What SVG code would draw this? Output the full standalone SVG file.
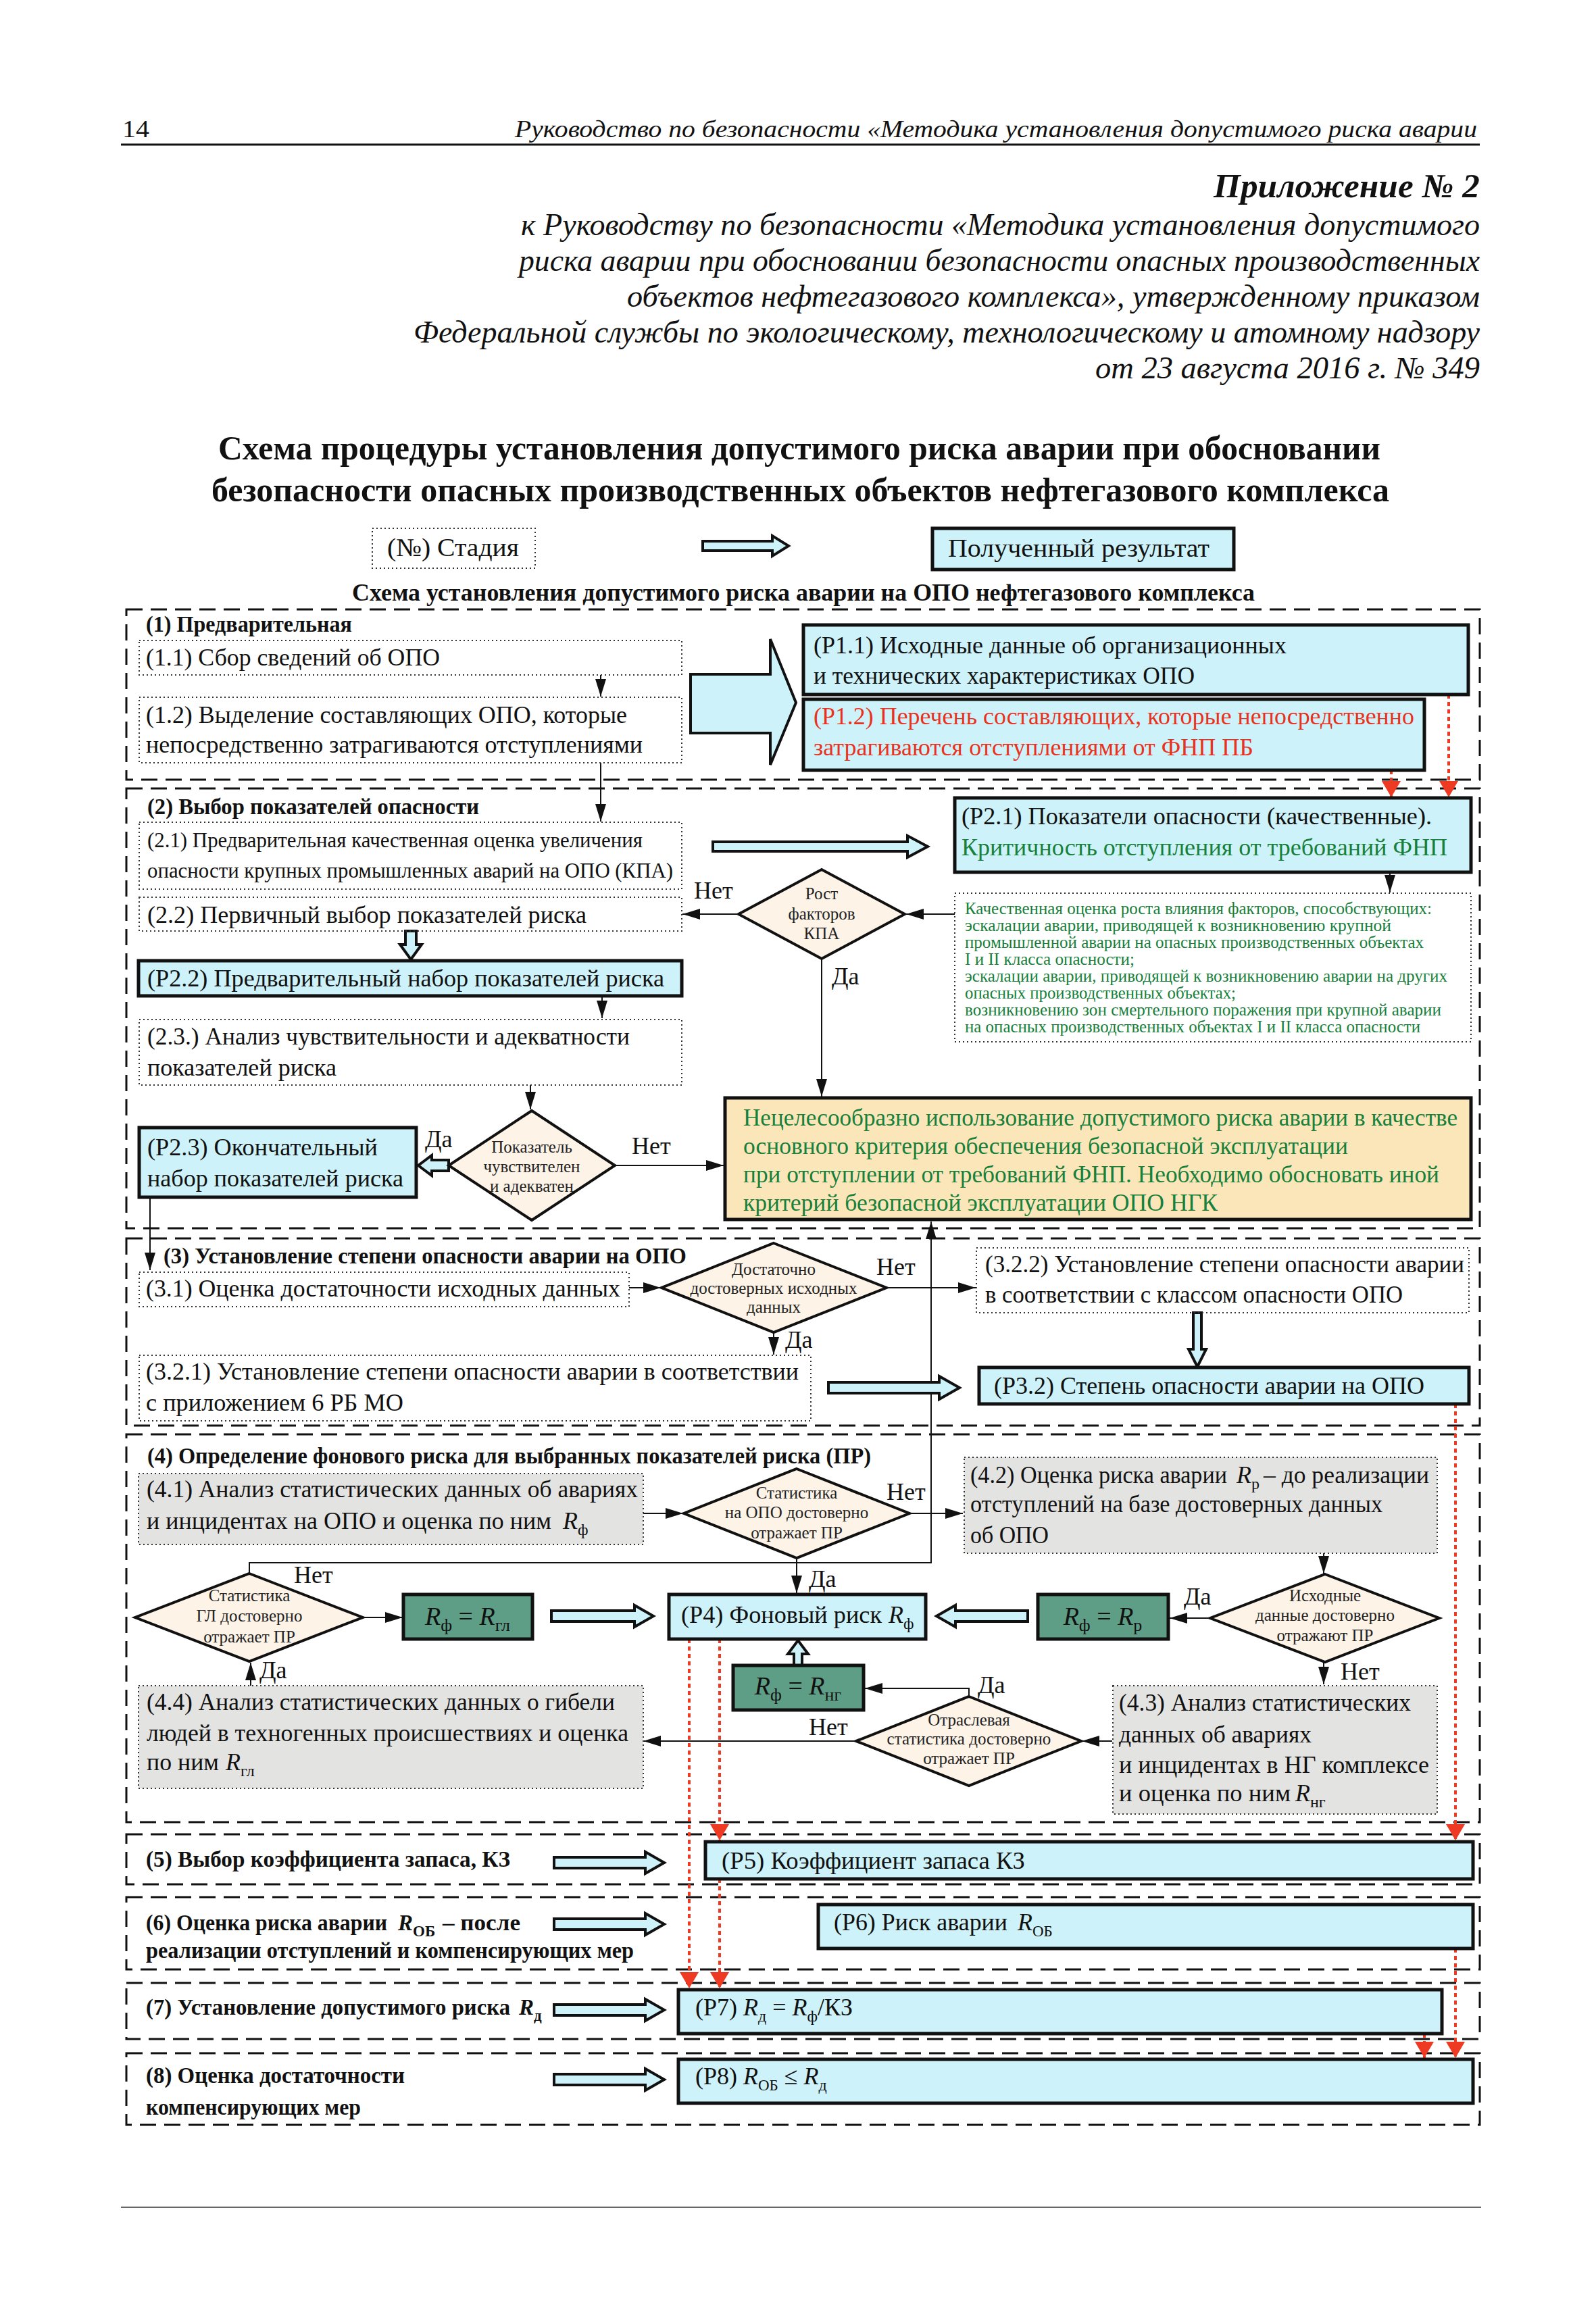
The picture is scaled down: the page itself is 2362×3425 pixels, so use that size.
<svg xmlns="http://www.w3.org/2000/svg" width="2362" height="3425" viewBox="0 0 2362 3425">
<defs>
<style>
text{font-family:"Liberation Serif","Times New Roman",serif;fill:#111}
.t{font-size:36px}
.s{font-size:32px}
.b{font-size:33px;font-weight:bold}
.gs{font-size:25px;fill:#17803a}
.g{fill:#17803a}
.red{fill:#e8321e}
.dt{font-size:25px;text-anchor:middle;fill:#222}
.i{font-style:italic}
.sub{font-size:24px}
.stage{fill:none;stroke:#111;stroke-width:3;stroke-dasharray:24 12}
.dot{fill:none;stroke:#333;stroke-width:2;stroke-dasharray:2 4}
.gray{fill:#e3e3e1;stroke:#333;stroke-width:2;stroke-dasharray:2 4}
.pbox{fill:#cdf2f9;stroke:#111;stroke-width:5}
.obox{fill:#fbe6ba;stroke:#111;stroke-width:5}
.gbox{fill:#5f9e86;stroke:#111;stroke-width:5}
.dia{fill:#fdf3e7;stroke:#111;stroke-width:4}
.ha{fill:#cdf2f9;stroke:#111;stroke-width:4}
.c{fill:none;stroke:#111;stroke-width:2;marker-end:url(#ah)}
.rd{fill:none;stroke:#ee3a22;stroke-width:4;stroke-dasharray:6 5;marker-end:url(#rah)}
</style>
<marker id="ah" markerUnits="userSpaceOnUse" markerWidth="26" markerHeight="16" refX="26" refY="8" orient="auto"><path d="M0,0 L26,8 L0,16 z" fill="#111"/></marker>
<marker id="rah" markerUnits="userSpaceOnUse" markerWidth="24" markerHeight="28" refX="24" refY="14" orient="auto"><path d="M0,0 L24,14 L0,28 z" fill="#ee3a22"/></marker>
</defs>
<rect width="2362" height="3425" fill="#fff"/>

<g id="header">
<text x="181" y="203" font-size="36" textLength="40" lengthAdjust="spacingAndGlyphs">14</text>
<text x="762" y="203" class="i" font-size="35" textLength="1424" lengthAdjust="spacingAndGlyphs">Руководство по безопасности «Методика установления допустимого риска аварии</text>
<line x1="179" y1="214" x2="2190" y2="214" stroke="#111" stroke-width="3"/>
<text x="1796" y="292" font-size="50" font-weight="bold" font-style="italic" textLength="394" lengthAdjust="spacingAndGlyphs">Приложение № 2</text>
<text x="771" y="348" class="i" font-size="46" textLength="1419" lengthAdjust="spacingAndGlyphs">к Руководству по безопасности «Методика установления допустимого</text>
<text x="768" y="401" class="i" font-size="46" textLength="1422" lengthAdjust="spacingAndGlyphs">риска аварии при обосновании безопасности опасных производственных</text>
<text x="928" y="454" class="i" font-size="46" textLength="1262" lengthAdjust="spacingAndGlyphs">объектов нефтегазового комплекса», утвержденному приказом</text>
<text x="612" y="507" class="i" font-size="46" textLength="1578" lengthAdjust="spacingAndGlyphs">Федеральной службы по экологическому, технологическому и атомному надзору</text>
<text x="1621" y="560" class="i" font-size="46" textLength="569" lengthAdjust="spacingAndGlyphs">от 23 августа 2016 г. № 349</text>
<text x="323" y="680" font-size="50" font-weight="bold" textLength="1720" lengthAdjust="spacingAndGlyphs">Схема процедуры установления допустимого риска аварии при обосновании</text>
<text x="313" y="742" font-size="50" font-weight="bold" textLength="1743" lengthAdjust="spacingAndGlyphs">безопасности опасных производственных объектов нефтегазового комплекса</text>
</g>

<g id="legend">
<rect class="dot" x="551" y="782" width="241" height="59"/>
<text x="573" y="823" font-size="38" textLength="195" lengthAdjust="spacingAndGlyphs">(№) Стадия</text>
<polygon class="ha" points="1040,801 1143,801 1143,793 1167,808 1143,823 1143,815 1040,815"/>
<rect class="pbox" x="1380" y="782" width="446" height="61"/>
<text x="1403" y="824" font-size="38" textLength="387" lengthAdjust="spacingAndGlyphs">Полученный результат</text>
<text x="521" y="889" font-size="36" font-weight="bold" textLength="1336" lengthAdjust="spacingAndGlyphs">Схема установления допустимого риска аварии на ОПО нефтегазового комплекса</text>
</g>

<g id="stages">
<rect class="stage" x="187" y="902" width="2003" height="252"/>
<rect class="stage" x="187" y="1167" width="2003" height="651"/>
<rect class="stage" x="187" y="1833" width="2003" height="277"/>
<rect class="stage" x="187" y="2123" width="2003" height="574"/>
<rect class="stage" x="187" y="2715" width="2003" height="74"/>
<rect class="stage" x="187" y="2808" width="2003" height="107"/>
<rect class="stage" x="187" y="2935" width="2003" height="83"/>
<rect class="stage" x="187" y="3039" width="2003" height="106"/>
</g>

<g id="connectors">
<path class="c" d="M889,999 V1031"/>
<path class="c" d="M889,1129 V1216"/>
<path class="c" d="M1093,1353 H1010"/>
<path class="c" d="M1413,1353 H1341"/>
<path class="c" d="M2057,1291 V1321"/>
<path class="c" d="M1216,1419 V1623"/>
<path class="c" d="M891,1474 V1507"/>
<path class="c" d="M785,1606 V1642"/>
<path class="c" d="M910,1725 H1071"/>
<path class="c" d="M222,1772 V1880"/>
<path class="c" d="M931,1906 H978"/>
<path class="c" d="M1312,1906 H1444"/>
<path class="c" d="M1145,1972 V2005"/>
<path class="c" d="M369,2329 V2313 H1378 V1808"/>
<path class="c" d="M952,2240 H1011"/>
<path class="c" d="M1346,2240 H1425"/>
<path class="c" d="M1179,2306 V2358"/>
<path class="c" d="M1959,2299 V2329"/>
<path class="c" d="M1791,2395 H1731"/>
<path class="c" d="M1959,2460 V2493"/>
<path class="c" d="M1646,2577 H1601"/>
<path class="c" d="M1434,2511 V2499 H1280"/>
<path class="c" d="M1267,2577 H952"/>
<path class="c" d="M371,2495 V2461"/>
<path class="c" d="M537,2394 H596"/>
<path class="rd" d="M2144,1028 V1180"/>
<path class="rd" d="M2059,1140 V1180"/>
<path class="rd" d="M2154,2078 V2724"/>
<path class="rd" d="M1065,2426 V2724"/>
<path class="rd" d="M1065,2781 V2943"/>
<path class="rd" d="M1020,2426 V2943"/>
<path class="rd" d="M2154,2884 V3046"/>
<path class="rd" d="M2108,3010 V3046"/>
<polygon class="ha" points="1022,998 1140,998 1140,946 1178,1040 1140,1132 1140,1085 1022,1085"/>
<polygon class="ha" points="1055,1246 1343,1246 1343,1237 1373,1253 1343,1269 1343,1260 1055,1260"/>
<polygon class="ha" points="600,1378 616,1378 616,1398 624,1398 608,1420 592,1398 600,1398"/>
<polygon class="ha" points="664,1717 639,1717 639,1710 619,1725 639,1740 639,1733 664,1733"/>
<polygon class="ha" points="1766,1943 1778,1943 1778,1997 1785,1997 1772,2023 1759,1997 1766,1997"/>
<polygon class="ha" points="1226,2046 1390,2046 1390,2037 1420,2054 1390,2071 1390,2062 1226,2062"/>
<polygon class="ha" points="816,2384 939,2384 939,2376 967,2392 939,2408 939,2400 816,2400"/>
<polygon class="ha" points="1521,2384 1414,2384 1414,2376 1386,2392 1414,2408 1414,2400 1521,2400"/>
<polygon class="ha" points="1175,2465 1187,2465 1187,2448 1196,2448 1181,2428 1166,2448 1175,2448"/>
<polygon class="ha" points="820,2749 955,2749 955,2741 983,2757 955,2773 955,2765 820,2765"/>
<polygon class="ha" points="820,2840 955,2840 955,2832 983,2848 955,2864 955,2856 820,2856"/>
<polygon class="ha" points="820,2967 955,2967 955,2959 983,2975 955,2991 955,2983 820,2983"/>
<polygon class="ha" points="820,3070 955,3070 955,3062 983,3078 955,3094 955,3086 820,3086"/>
</g>

<g id="labels">
<text x="1027" y="1330" class="t">Нет</text>
<text x="1231" y="1457" class="t">Да</text>
<text x="629" y="1698" class="t">Да</text>
<text x="935" y="1708" class="t">Нет</text>
<text x="1297" y="1887" class="t">Нет</text>
<text x="1162" y="1995" class="t">Да</text>
<text x="1312" y="2220" class="t">Нет</text>
<text x="1197" y="2349" class="t">Да</text>
<text x="435" y="2343" class="t">Нет</text>
<text x="384" y="2484" class="t">Да</text>
<text x="1752" y="2375" class="t">Да</text>
<text x="1984" y="2486" class="t">Нет</text>
<text x="1447" y="2506" class="t">Да</text>
<text x="1197" y="2568" class="t">Нет</text>
</g>

<g id="stage1">
<text x="216" y="935" class="b" textLength="305" lengthAdjust="spacingAndGlyphs">(1) Предварительная</text>
</g>
<g id="n1_1"><rect class="dot" x="206" y="948" width="803" height="51"/>
<text x="216" y="985" class="t" textLength="435" lengthAdjust="spacingAndGlyphs">(1.1) Сбор сведений об ОПО</text></g>
<g id="n1_2"><rect class="dot" x="206" y="1032" width="803" height="97"/>
<text x="216" y="1070" class="t" textLength="712" lengthAdjust="spacingAndGlyphs">(1.2) Выделение составляющих ОПО, которые</text>
<text x="216" y="1114" class="t" textLength="735" lengthAdjust="spacingAndGlyphs">непосредственно затрагиваются отступлениями</text></g>
<g id="p1_1"><rect class="pbox" x="1189" y="925" width="984" height="103"/>
<text x="1204" y="967" class="t" textLength="700" lengthAdjust="spacingAndGlyphs">(P1.1) Исходные данные об организационных</text>
<text x="1204" y="1012" class="t" textLength="564" lengthAdjust="spacingAndGlyphs">и технических характеристиках ОПО</text></g>
<g id="p1_2"><rect class="pbox" x="1189" y="1035" width="919" height="105"/>
<text x="1204" y="1072" class="t red" textLength="889" lengthAdjust="spacingAndGlyphs">(P1.2) Перечень составляющих, которые непосредственно</text>
<text x="1204" y="1118" class="t red" textLength="651" lengthAdjust="spacingAndGlyphs">затрагиваются отступлениями от ФНП ПБ</text></g>

<g id="stage2">
<text x="218" y="1205" class="b" textLength="491" lengthAdjust="spacingAndGlyphs">(2) Выбор показателей опасности</text>
</g>
<g id="n2_1"><rect class="dot" x="206" y="1217" width="803" height="99"/>
<text x="218" y="1254" class="s" textLength="733" lengthAdjust="spacingAndGlyphs">(2.1) Предварительная качественная оценка увеличения</text>
<text x="218" y="1299" class="s" textLength="778" lengthAdjust="spacingAndGlyphs">опасности крупных промышленных аварий на ОПО (КПА)</text></g>
<g id="n2_2"><rect class="dot" x="206" y="1328" width="803" height="50"/>
<text x="218" y="1366" class="t" textLength="650" lengthAdjust="spacingAndGlyphs">(2.2) Первичный выбор показателей риска</text></g>
<g id="p2_2"><rect class="pbox" x="205" y="1422" width="804" height="52"/>
<text x="218" y="1460" class="t" textLength="765" lengthAdjust="spacingAndGlyphs">(P2.2) Предварительный набор показателей риска</text></g>
<g id="n2_3"><rect class="dot" x="206" y="1509" width="803" height="97"/>
<text x="218" y="1546" class="t" textLength="714" lengthAdjust="spacingAndGlyphs">(2.3.) Анализ чувствительности и адекватности</text>
<text x="218" y="1592" class="t" textLength="280" lengthAdjust="spacingAndGlyphs">показателей риска</text></g>
<g id="p2_3"><rect class="pbox" x="206" y="1669" width="410" height="103"/>
<text x="218" y="1710" class="t" textLength="341" lengthAdjust="spacingAndGlyphs">(P2.3) Окончательный</text>
<text x="218" y="1756" class="t" textLength="379" lengthAdjust="spacingAndGlyphs">набор показателей риска</text></g>
<g id="d_sens"><polygon class="dia" points="787,1644 910,1725 787,1806 664,1725"/>
<text x="787" y="1706" class="dt">Показатель</text>
<text x="787" y="1735" class="dt">чувствителен</text>
<text x="787" y="1764" class="dt">и адекватен</text></g>
<g id="p2_1"><rect class="pbox" x="1413" y="1181" width="764" height="110"/>
<text x="1423" y="1220" class="t" textLength="696" lengthAdjust="spacingAndGlyphs">(P2.1) Показатели опасности (качественные).</text>
<text x="1423" y="1266" class="t g" textLength="719" lengthAdjust="spacingAndGlyphs">Критичность отступления от требований ФНП</text></g>
<g id="n_quality"><rect class="dot" x="1413" y="1322" width="764" height="220"/>
<text x="1428" y="1353" class="gs" textLength="691" lengthAdjust="spacingAndGlyphs">Качественная оценка роста влияния факторов, способствующих:</text>
<text x="1428" y="1378" class="gs" textLength="631" lengthAdjust="spacingAndGlyphs">эскалации аварии, приводящей к  возникновению крупной</text>
<text x="1428" y="1403" class="gs" textLength="679" lengthAdjust="spacingAndGlyphs">промышленной аварии на опасных производственных объектах</text>
<text x="1428" y="1428" class="gs" textLength="251" lengthAdjust="spacingAndGlyphs">I и II класса опасности;</text>
<text x="1428" y="1453" class="gs" textLength="714" lengthAdjust="spacingAndGlyphs">эскалации аварии, приводящей к возникновению аварии на других</text>
<text x="1428" y="1478" class="gs" textLength="401" lengthAdjust="spacingAndGlyphs">опасных производственных объектах;</text>
<text x="1428" y="1503" class="gs" textLength="705" lengthAdjust="spacingAndGlyphs">возникновению зон смертельного поражения при крупной аварии</text>
<text x="1428" y="1528" class="gs" textLength="674" lengthAdjust="spacingAndGlyphs">на опасных производственных объектах I и II класса опасности</text></g>
<g id="d_kpa"><polygon class="dia" points="1216,1287 1339,1353 1216,1419 1093,1353"/>
<text x="1216" y="1331" class="dt" font-size="27">Рост</text>
<text x="1216" y="1361" class="dt" font-size="27">факторов</text>
<text x="1216" y="1390" class="dt" font-size="27">КПА</text></g>
<g id="o_box"><rect class="obox" x="1073" y="1625" width="1104" height="180"/>
<text x="1100" y="1666" font-size="35" class="g" textLength="1057" lengthAdjust="spacingAndGlyphs">Нецелесообразно использование допустимого риска аварии в качестве</text>
<text x="1100" y="1708" font-size="35" class="g" textLength="895" lengthAdjust="spacingAndGlyphs">основного критерия обеспечения безопасной эксплуатации</text>
<text x="1100" y="1750" font-size="35" class="g" textLength="1030" lengthAdjust="spacingAndGlyphs">при отступлении от требований ФНП. Необходимо обосновать иной</text>
<text x="1100" y="1792" font-size="35" class="g" textLength="702" lengthAdjust="spacingAndGlyphs">критерий безопасной эксплуатации ОПО НГК</text></g>

<g id="stage3">
<text x="242" y="1870" class="b" textLength="774" lengthAdjust="spacingAndGlyphs">(3) Установление степени опасности аварии на ОПО</text>
</g>
<g id="n3_1"><rect class="dot" x="206" y="1883" width="725" height="51"/>
<text x="216" y="1919" class="t" textLength="702" lengthAdjust="spacingAndGlyphs">(3.1) Оценка достаточности исходных данных</text></g>
<g id="d_data"><polygon class="dia" points="1145,1840 1312,1906 1145,1972 979,1906"/>
<text x="1145" y="1887" class="dt" font-size="24">Достаточно</text>
<text x="1145" y="1915" class="dt" font-size="24">достоверных исходных</text>
<text x="1145" y="1943" class="dt" font-size="24">данных</text></g>
<g id="n3_2_2"><rect class="dot" x="1445" y="1847" width="729" height="96"/>
<text x="1458" y="1883" class="t" textLength="709" lengthAdjust="spacingAndGlyphs">(3.2.2) Установление степени опасности аварии</text>
<text x="1458" y="1928" class="t" textLength="618" lengthAdjust="spacingAndGlyphs">в соответствии с классом опасности ОПО</text></g>
<g id="n3_2_1"><rect class="dot" x="206" y="2006" width="994" height="97"/>
<text x="216" y="2042" class="t" textLength="966" lengthAdjust="spacingAndGlyphs">(3.2.1) Установление степени опасности аварии в соответствии</text>
<text x="216" y="2088" class="t" textLength="381" lengthAdjust="spacingAndGlyphs">с приложением 6 РБ МО</text></g>
<g id="p3_2"><rect class="pbox" x="1449" y="2024" width="725" height="54"/>
<text x="1471" y="2063" class="t" textLength="637" lengthAdjust="spacingAndGlyphs">(P3.2) Степень опасности аварии на ОПО</text></g>

<g id="stage4">
<text x="218" y="2166" class="b" textLength="1071" lengthAdjust="spacingAndGlyphs">(4) Определение фонового риска для выбранных показателей риска (ПР)</text>
</g>
<g id="n4_1"><rect class="gray" x="205" y="2181" width="747" height="105"/>
<text x="217" y="2216" class="t" textLength="727" lengthAdjust="spacingAndGlyphs">(4.1) Анализ статистических данных об авариях</text>
<text x="217" y="2263" class="t" textLength="599" lengthAdjust="spacingAndGlyphs">и инцидентах на ОПО и оценка по ним</text>
<text x="833" y="2263" class="t"><tspan class="i">R</tspan><tspan class="sub" dy="9">ф</tspan></text></g>
<g id="d_opo"><polygon class="dia" points="1179,2174 1346,2240 1179,2306 1012,2240"/>
<text x="1179" y="2218" class="dt">Статистика</text>
<text x="1179" y="2247" class="dt">на ОПО достоверно</text>
<text x="1179" y="2277" class="dt">отражает ПР</text></g>
<g id="n4_2"><rect class="gray" x="1427" y="2157" width="700" height="142"/>
<text x="1436" y="2195" class="t" textLength="380" lengthAdjust="spacingAndGlyphs">(4.2) Оценка риска аварии</text>
<text x="1830" y="2195" class="t"><tspan class="i">R</tspan><tspan class="sub" dy="9">р</tspan></text>
<text x="1870" y="2195" class="t" textLength="245" lengthAdjust="spacingAndGlyphs">– до реализации</text>
<text x="1436" y="2238" class="t" textLength="610" lengthAdjust="spacingAndGlyphs">отступлений на базе достоверных данных</text>
<text x="1436" y="2284" class="t" textLength="116" lengthAdjust="spacingAndGlyphs">об ОПО</text></g>
<g id="d_src"><polygon class="dia" points="1961,2330 2130,2395 1961,2460 1791,2395"/>
<text x="1961" y="2370" class="dt">Исходные</text>
<text x="1961" y="2399" class="dt">данные достоверно</text>
<text x="1961" y="2429" class="dt">отражают ПР</text></g>
<g id="r_p"><rect class="gbox" x="1536" y="2360" width="193" height="66"/>
<text x="1632" y="2405" text-anchor="middle" font-size="38"><tspan class="i">R</tspan><tspan font-size="26" dy="9">ф</tspan><tspan dy="-9"> = </tspan><tspan class="i">R</tspan><tspan font-size="26" dy="9">р</tspan></text></g>
<g id="p4"><rect class="pbox" x="990" y="2360" width="380" height="66"/>
<text x="1008" y="2402" class="t" textLength="297" lengthAdjust="spacingAndGlyphs">(P4) Фоновый риск</text>
<text x="1315" y="2402" class="t"><tspan class="i">R</tspan><tspan class="sub" dy="9">ф</tspan></text></g>
<g id="r_gl"><rect class="gbox" x="597" y="2360" width="191" height="66"/>
<text x="692" y="2405" text-anchor="middle" font-size="38"><tspan class="i">R</tspan><tspan font-size="26" dy="9">ф</tspan><tspan dy="-9"> = </tspan><tspan class="i">R</tspan><tspan font-size="26" dy="9">гл</tspan></text></g>
<g id="r_ng"><rect class="gbox" x="1085" y="2465" width="193" height="66"/>
<text x="1181" y="2508" text-anchor="middle" font-size="38"><tspan class="i">R</tspan><tspan font-size="26" dy="9">ф</tspan><tspan dy="-9"> = </tspan><tspan class="i">R</tspan><tspan font-size="26" dy="9">нг</tspan></text></g>
<g id="d_gl"><polygon class="dia" points="369,2329 537,2394 369,2459 200,2394"/>
<text x="369" y="2370" class="dt">Статистика</text>
<text x="369" y="2400" class="dt">ГЛ достоверно</text>
<text x="369" y="2431" class="dt">отражает ПР</text></g>
<g id="d_ind"><polygon class="dia" points="1434,2511 1600,2577 1434,2643 1267,2577"/>
<text x="1434" y="2554" class="dt">Отраслевая</text>
<text x="1434" y="2582" class="dt">статистика достоверно</text>
<text x="1434" y="2611" class="dt">отражает ПР</text></g>
<g id="n4_3"><rect class="gray" x="1647" y="2495" width="480" height="190"/>
<text x="1656" y="2532" class="t" textLength="432" lengthAdjust="spacingAndGlyphs">(4.3) Анализ статистических</text>
<text x="1656" y="2579" class="t" textLength="285" lengthAdjust="spacingAndGlyphs">данных об авариях</text>
<text x="1656" y="2624" class="t" textLength="459" lengthAdjust="spacingAndGlyphs">и инцидентах в НГ комплексе</text>
<text x="1656" y="2666" class="t" textLength="254" lengthAdjust="spacingAndGlyphs">и оценка по ним</text>
<text x="1917" y="2666" class="t"><tspan class="i">R</tspan><tspan class="sub" dy="9">нг</tspan></text></g>
<g id="n4_4"><rect class="gray" x="205" y="2495" width="747" height="152"/>
<text x="217" y="2531" class="t" textLength="693" lengthAdjust="spacingAndGlyphs">(4.4) Анализ статистических данных о гибели</text>
<text x="217" y="2577" class="t" textLength="713" lengthAdjust="spacingAndGlyphs">людей в техногенных происшествиях и оценка</text>
<text x="217" y="2620" class="t" textLength="107" lengthAdjust="spacingAndGlyphs">по ним</text>
<text x="334" y="2620" class="t"><tspan class="i">R</tspan><tspan class="sub" dy="9">гл</tspan></text></g>

<g id="stage5">
<text x="216" y="2763" class="b" textLength="539" lengthAdjust="spacingAndGlyphs">(5) Выбор коэффициента запаса, КЗ</text>
</g>
<g id="p5"><rect class="pbox" x="1044" y="2726" width="1136" height="55"/>
<text x="1068" y="2766" class="t" textLength="449" lengthAdjust="spacingAndGlyphs">(P5) Коэффициент запаса КЗ</text></g>
<g id="stage6">
<text x="216" y="2857" class="b" textLength="357" lengthAdjust="spacingAndGlyphs">(6) Оценка риска аварии</text>
<text x="589" y="2857" class="b"><tspan class="i">R</tspan><tspan font-size="23" dy="9">ОБ</tspan></text>
<text x="655" y="2857" class="b" textLength="115" lengthAdjust="spacingAndGlyphs">– после</text>
<text x="216" y="2898" class="b" textLength="722" lengthAdjust="spacingAndGlyphs">реализации  отступлений и компенсирующих мер</text>
</g>
<g id="p6"><rect class="pbox" x="1211" y="2819" width="969" height="65"/>
<text x="1234" y="2857" class="t" textLength="257" lengthAdjust="spacingAndGlyphs">(P6) Риск аварии</text>
<text x="1506" y="2857" class="t"><tspan class="i">R</tspan><tspan font-size="23" dy="9">ОБ</tspan></text></g>
<g id="stage7">
<text x="216" y="2982" class="b" textLength="539" lengthAdjust="spacingAndGlyphs">(7) Установление допустимого риска</text>
<text x="768" y="2982" class="b"><tspan class="i">R</tspan><tspan font-size="23" dy="9">д</tspan></text>
</g>
<g id="p7"><rect class="pbox" x="1004" y="2945" width="1130" height="65"/>
<text x="1029" y="2983" class="t">(P7) <tspan class="i">R</tspan><tspan class="sub" dy="9">д</tspan><tspan dy="-9"> = </tspan><tspan class="i">R</tspan><tspan class="sub" dy="9">ф</tspan><tspan dy="-9">/КЗ</tspan></text></g>
<g id="stage8">
<text x="216" y="3083" class="b" textLength="383" lengthAdjust="spacingAndGlyphs">(8) Оценка достаточности</text>
<text x="216" y="3130" class="b" textLength="318" lengthAdjust="spacingAndGlyphs">компенсирующих мер</text>
</g>
<g id="p8"><rect class="pbox" x="1004" y="3048" width="1176" height="65"/>
<text x="1029" y="3085" class="t">(P8) <tspan class="i">R</tspan><tspan font-size="23" dy="9">ОБ</tspan><tspan dy="-9"> ≤ </tspan><tspan class="i">R</tspan><tspan class="sub" dy="9">д</tspan></text></g>

<line x1="179" y1="3267" x2="2192" y2="3267" stroke="#333" stroke-width="1.5"/>
</svg>
